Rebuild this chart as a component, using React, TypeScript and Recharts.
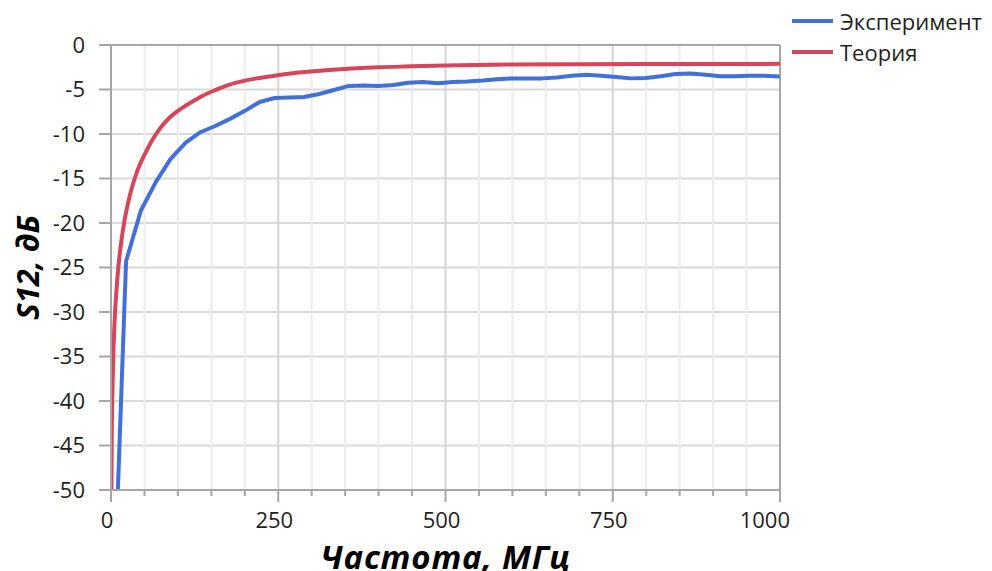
import React from 'react';
import { LineChart, Line, XAxis, YAxis, CartesianGrid, ReferenceLine, Label } from 'recharts';

// Measured transmission, MHz / dB
const freqExp = [
  0.3, 22.5, 44.7, 66.9, 89.1, 111.3, 133.5, 155.7, 177.9, 200.1, 222.3, 244.5, 266.7, 288.9, 311.1, 333.3,
  355.5, 377.7, 399.9, 422.1, 444.3, 466.5, 488.7, 510.9, 533.1, 555.3, 577.5, 599.7, 621.9, 644.1, 666.3,
  688.5, 710.7, 732.9, 755.1, 777.3, 799.5, 821.7, 843.9, 866.1, 888.3, 910.5, 932.7, 954.9, 977.1, 999.3,
];
const s12Exp = [
  -71, -24.3, -18.6, -15.4, -12.8, -11.0, -9.8, -9.1, -8.3, -7.4, -6.4, -5.95, -5.9, -5.85, -5.5, -5.05,
  -4.6, -4.55, -4.6, -4.5, -4.25, -4.15, -4.3, -4.15, -4.1, -4.0, -3.85, -3.75, -3.75, -3.75, -3.65,
  -3.45, -3.35, -3.45, -3.6, -3.75, -3.7, -3.5, -3.25, -3.2, -3.35, -3.5, -3.5, -3.45, -3.45, -3.55,
];

// Calculated transmission
const freqTheory = [
  0.5, 1, 2, 3, 4, 6, 8, 11, 15, 20, 25, 31, 40, 49, 60, 74, 87, 100, 112, 125, 137, 150, 175, 200, 240,
  280, 320, 360, 400, 450, 500, 600, 700, 800, 900, 1000,
];
const s12Theory = [
  -52, -45, -39.4, -36, -33.6, -30.1, -27.7, -24.9, -22.3, -19.8, -17.9, -16.1, -14.0, -12.5, -10.9, -9.3,
  -8.2, -7.4, -6.8, -6.2, -5.7, -5.25, -4.5, -4.0, -3.5, -3.1, -2.85, -2.65, -2.5, -2.4, -2.3, -2.2,
  -2.16, -2.14, -2.13, -2.12,
];

const xTicks = [0, 50, 100, 150, 200, 250, 300, 350, 400, 450, 500, 550, 600, 650, 700, 750, 800, 850, 900, 950, 1000];
const yTicks = [-50, -45, -40, -35, -30, -25, -20, -15, -10, -5, 0];
const xMajor = [250, 500, 750];

const seriesNames = ['Эксперимент', 'Теория'];
const seriesColors = ['#4170db', '#d6455a'];

const expData = freqExp.map((f, i) => ({ f, s12: s12Exp[i] }));
const theoryData = freqTheory.map((f, i) => ({ f, s12: s12Theory[i] }));

const FONT = '"Open Sans", "Noto Sans", sans-serif';
const FRAME = '#a6a6a6';

const XTick = (props: any) => {
  const { x, y, payload } = props;
  const v = payload.value as number;
  const major = v % 250 === 0;
  const last = v === 1000;
  return (
    <g>
      <line x1={x} x2={x} y1={y} y2={y + (major ? 12 : 6)} stroke={FRAME} strokeWidth={2} />
      {major && (
        <text
          x={last ? x + 10 : x - 4}
          y={y + 38}
          textAnchor={last ? 'end' : 'middle'}
          fontSize={22}
          fill="#1f1f1f"
          fontFamily={FONT}
        >
          {v}
        </text>
      )}
    </g>
  );
};

const XTitle = (props: any) => {
  const { viewBox } = props;
  return (
    <text
      x={viewBox.x + viewBox.width / 2}
      y={viewBox.y + 66}
      textAnchor="middle"
      dominantBaseline="central"
      fontSize={33}
      letterSpacing={0.8}
      fontWeight={700}
      fontStyle="italic"
      fill="#000"
      fontFamily={FONT}
    >
      Частота, МГц
    </text>
  );
};

const YTitle = (props: any) => {
  const { viewBox } = props;
  const cx = viewBox.x + 27;
  const cy = viewBox.y + viewBox.height / 2;
  return (
    <text
      x={cx}
      y={cy}
      transform={`rotate(-90, ${cx}, ${cy})`}
      textAnchor="middle"
      dominantBaseline="central"
      fontSize={31}
      fontWeight={700}
      fontStyle="italic"
      fill="#000"
      fontFamily={FONT}
    >
      S12, дБ
    </text>
  );
};

const SeriesKey = () => (
  <div style={{ position: 'absolute', left: 792, top: 5, fontFamily: FONT }}>
    {seriesNames.map((name, i) => (
      <div key={name} style={{ display: 'flex', alignItems: 'center', height: 31 }}>
        <div style={{ width: 41, height: 4, background: seriesColors[i], marginRight: 7 }} />
        <span style={{ fontSize: 22, color: '#1f1f1f' }}>{name}</span>
      </div>
    ))}
  </div>
);

export default function App() {
  return (
    <div style={{ position: 'absolute', left: 0, top: 0, width: 992, height: 571, background: '#fff' }}>
      <LineChart
        width={992}
        height={571}
        margin={{ top: 45, right: 212, bottom: 0, left: 0 }}
        style={{ fontFamily: FONT }}
      >
        <CartesianGrid vertical={false} stroke="#d9d9d9" strokeWidth={2} />
        {xTicks
          .filter((v) => v % 250 !== 0)
          .map((v) => (
            <ReferenceLine key={`mn${v}`} x={v} stroke="#ececec" strokeWidth={2} />
          ))}
        {xMajor.map((v) => (
          <ReferenceLine key={`mj${v}`} x={v} stroke="#d4d4d4" strokeWidth={2} />
        ))}
        <XAxis
          dataKey="f"
          type="number"
          domain={[0, 1000]}
          ticks={xTicks}
          interval={0}
          allowDataOverflow
          height={81}
          tickSize={0}
          tickMargin={0}
          tickLine={false}
          tick={<XTick />}
          axisLine={{ stroke: FRAME, strokeWidth: 2 }}
        >
          <Label content={<XTitle />} />
        </XAxis>
        <YAxis
          type="number"
          domain={[-50, 0]}
          ticks={yTicks}
          interval={0}
          allowDataOverflow
          width={111}
          tickSize={12}
          tickMargin={14}
          tickLine={{ stroke: FRAME, strokeWidth: 2 }}
          axisLine={{ stroke: FRAME, strokeWidth: 2 }}
          tick={{ fontSize: 22, fill: '#1f1f1f', fontFamily: FONT }}
        >
          <Label content={<YTitle />} />
        </YAxis>
        <ReferenceLine y={0} stroke={FRAME} strokeWidth={2} />
        <ReferenceLine x={1000} stroke={FRAME} strokeWidth={2} />
        <Line
          data={expData}
          dataKey="s12"
          name={seriesNames[0]}
          type="linear"
          stroke={seriesColors[0]}
          strokeWidth={4}
          strokeLinejoin="round"
          dot={false}
          isAnimationActive={false}
        />
        <Line
          data={theoryData}
          dataKey="s12"
          name={seriesNames[1]}
          type="monotone"
          stroke={seriesColors[1]}
          strokeWidth={4}
          dot={false}
          isAnimationActive={false}
        />
      </LineChart>
      <SeriesKey />
    </div>
  );
}
